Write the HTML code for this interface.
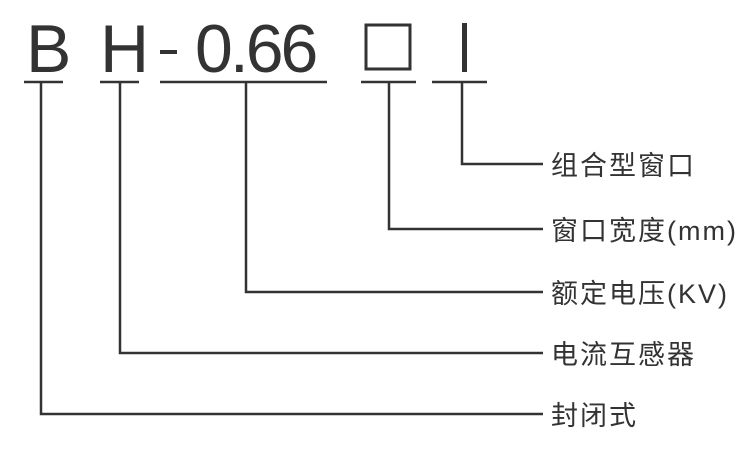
<!DOCTYPE html>
<html><head><meta charset="utf-8"><style>
html,body{margin:0;padding:0;background:#fff;}
svg{display:block}
</style></head><body>
<svg width="750" height="451" viewBox="0 0 750 451" xmlns="http://www.w3.org/2000/svg">
<g fill="#333" font-family="'Liberation Sans','Noto Sans CJK SC',sans-serif">
<text x="26" y="72" font-size="68">B</text>
<text x="100" y="72" font-size="68">H</text>
<rect x="160" y="50" width="17" height="4"/>
<text x="195" y="72" font-size="68" letter-spacing="-3">0.66</text>
<rect x="462" y="23" width="5" height="49"/>
</g>
<rect x="366" y="25" width="44" height="44" fill="none" stroke="#333" stroke-width="3"/>
<g stroke="#333" stroke-width="2.5" fill="none">
<line x1="24" y1="82" x2="63" y2="82"/>
<line x1="100" y1="82" x2="139" y2="82"/>
<line x1="160" y1="82" x2="327" y2="82"/>
<line x1="361" y1="82" x2="416" y2="82"/>
<line x1="432" y1="82" x2="487" y2="82"/>
<polyline points="462,82 462,164 543,164"/>
<polyline points="389,82 389,229 543,229"/>
<polyline points="246,82 246,292 543,292"/>
<polyline points="120,82 120,353 543,353"/>
<polyline points="41,82 41,414 543,414"/>
</g>
<g fill="#333" font-family="'Liberation Sans','Noto Sans CJK SC',sans-serif" font-size="27" letter-spacing="2">
<text x="551" y="175">组合型窗口</text>
<text x="551" y="240">窗口宽度(mm)</text>
<text x="551" y="303">额定电压(KV)</text>
<text x="551" y="364">电流互感器</text>
<text x="551" y="425">封闭式</text>
</g>
</svg>
</body></html>
